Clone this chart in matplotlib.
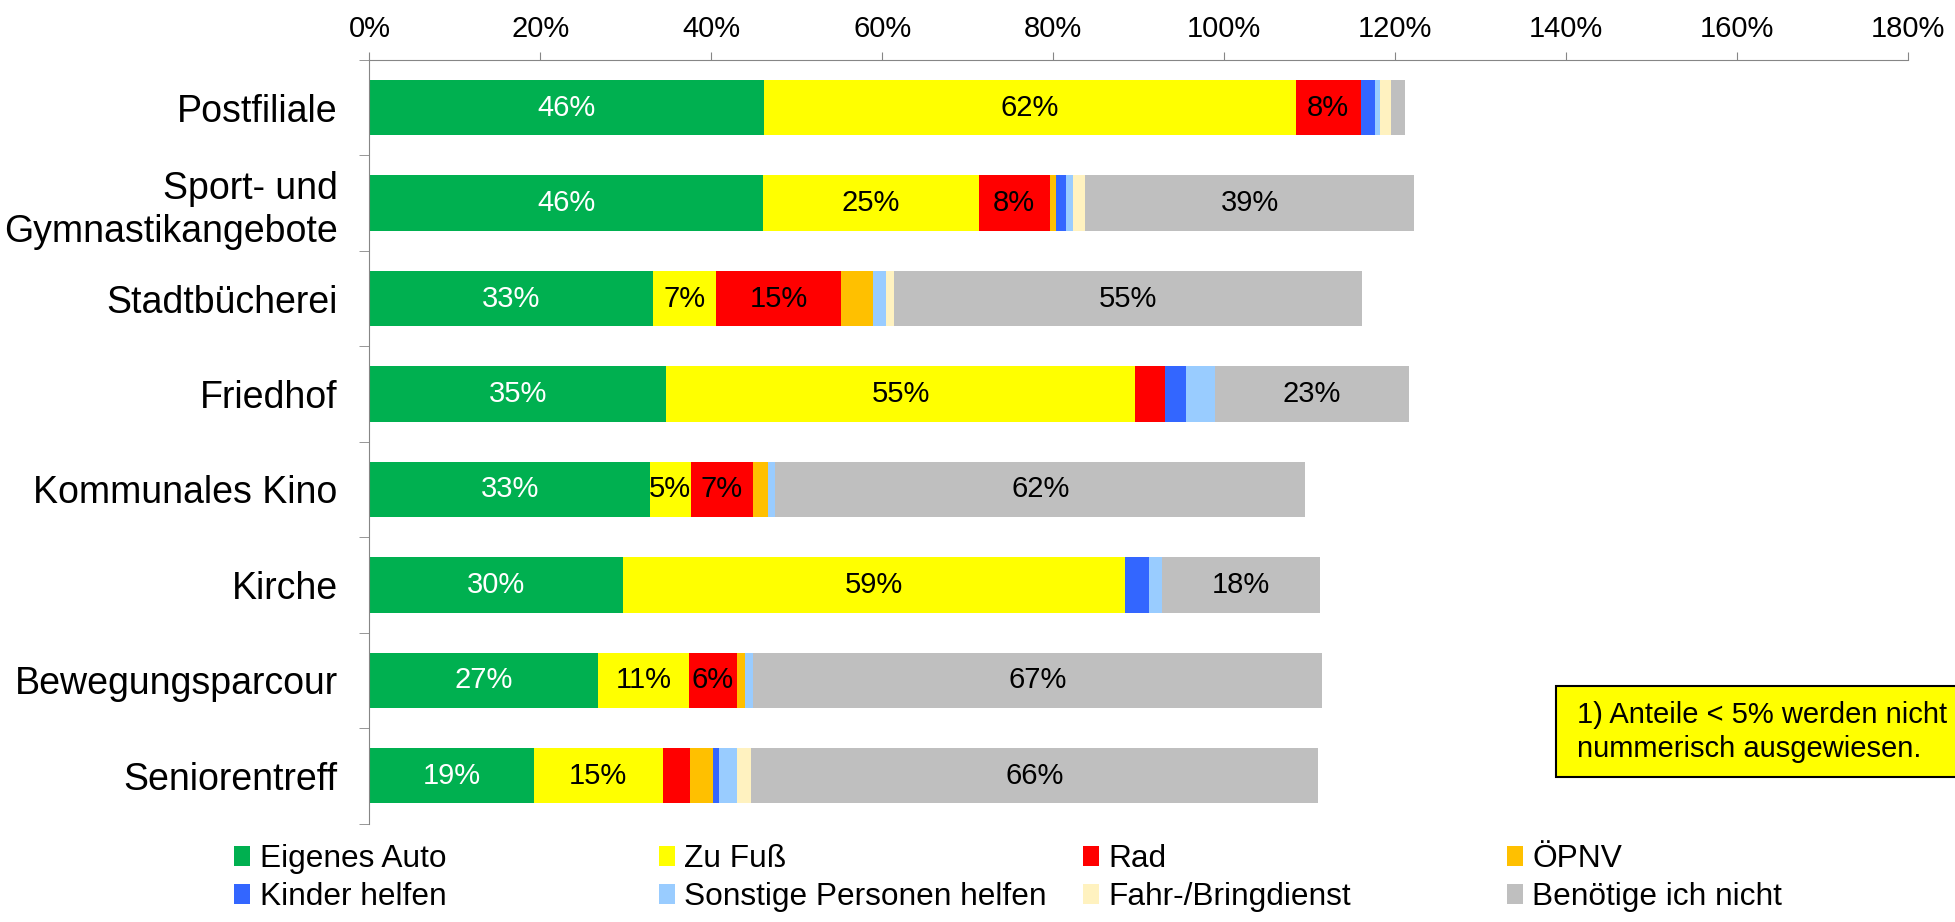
import matplotlib
matplotlib.use('Agg')
import matplotlib.pyplot as plt
from matplotlib.patches import Patch, Rectangle
import numpy as np

plt.rcParams['font.family'] = ['Liberation Sans', 'DejaVu Sans']

# Kategorien (von oben nach unten)
categories = ['Postfiliale', 'Sport- und\nGymnastikangebote', 'Stadtbücherei', 'Friedhof',
              'Kommunales Kino', 'Kirche', 'Bewegungsparcour', 'Seniorentreff']

series_names = ['Eigenes Auto', 'Zu Fuß', 'Rad', 'ÖPNV',
                'Kinder helfen', 'Sonstige Personen helfen', 'Fahr-/Bringdienst', 'Benötige ich nicht']
colors = ['#00B050', '#FFFF00', '#FF0000', '#FFC000',
          '#3366FF', '#99CCFF', '#FFF2C0', '#BFBFBF']

# Anteile in %
eigenes_auto = [46.2, 46.0, 33.2, 34.7, 32.8, 29.7, 26.8, 19.2]
zu_fuss      = [62.2, 25.3, 7.4, 54.9, 4.8, 58.7, 10.6, 15.1]
rad          = [7.6, 8.3, 14.6, 3.5, 7.3, 0.0, 5.6, 3.2]
oepnv        = [0.0, 0.8, 3.7, 0.0, 1.7, 0.0, 1.0, 2.7]
kinder       = [1.7, 1.1, 0.0, 2.5, 0.0, 2.8, 0.0, 0.7]
sonstige     = [0.6, 0.8, 1.6, 3.3, 0.9, 1.6, 0.9, 2.1]
fahrdienst   = [1.2, 1.4, 0.9, 0.0, 0.0, 0.0, 0.0, 1.6]
benoetige    = [1.7, 38.6, 54.8, 22.7, 62.0, 18.4, 66.6, 66.4]

series = [eigenes_auto, zu_fuss, rad, oepnv, kinder, sonstige, fahrdienst, benoetige]

W, H = 1956, 922
fig = plt.figure(figsize=(W / 100, H / 100), dpi=100)
ax = fig.add_axes([369.5 / W, 1 - 823.5 / H, (1907.5 - 369.5) / W, (823.5 - 60) / H])

y = np.arange(len(categories))
left = np.zeros(len(categories))
handles = []
for name, vals, col in zip(series_names, series, colors):
    vals = np.array(vals)
    bars = ax.barh(y, vals, left=left, height=0.58, color=col, edgecolor='none')
    labels = [f'{round(v)}%' if round(v) >= 5 else '' for v in vals]
    ax.bar_label(bars, labels=labels, label_type='center', fontsize=21,
                 color='white' if col == '#00B050' else 'black')
    handles.append(Patch(facecolor=col, edgecolor='none', label=name))
    left += vals

ax.set_xlim(0, 180)
ax.set_ylim(len(categories) - 0.5, -0.5)
ax.xaxis.tick_top()
xt = np.arange(0, 181, 20)
ax.set_xticks(xt)
ax.set_xticklabels([f'{t}%' for t in xt], fontsize=21)
ax.tick_params(axis='x', length=6, color='#868686', pad=6)

ax.set_yticks(y)
ax.set_yticklabels(categories, fontsize=27, linespacing=1.25)
ax.set_yticks(np.arange(-0.5, len(categories), 1), minor=True)
ax.tick_params(axis='y', which='major', length=0, pad=23)
ax.tick_params(axis='y', which='minor', length=7, color='#868686')

for s in ['right', 'bottom']:
    ax.spines[s].set_visible(False)
for s in ['top', 'left']:
    ax.spines[s].set_color('#868686')

# Legende: 4 Spalten, zeilenweise gefuellt
col_x = [234.5, 658.7, 1082.8, 1507]
for i, x0 in enumerate(col_x):
    leg = fig.legend(handles=[handles[i], handles[i + 4]], loc='center left',
                     bbox_to_anchor=(x0 / W, 1 - 878 / H), frameon=False,
                     fontsize=22.8, handlelength=0.5, handleheight=0.6,
                     handletextpad=0.3, labelspacing=0.25, borderpad=0, borderaxespad=0)

# Hinweisbox
fig.patches.append(Rectangle((1556 / W, 1 - 777 / H), (1975 - 1556) / W, (777 - 686) / H,
                             transform=fig.transFigure, facecolor='#FFFF00',
                             edgecolor='black', linewidth=1.5, clip_on=False))
fig.text(1577 / W, 1 - 732 / H, '1) Anteile < 5% werden nicht\nnummerisch ausgewiesen.',
         fontsize=21, ha='left', va='center', linespacing=1.3)

fig.savefig('out.png', dpi=100)
